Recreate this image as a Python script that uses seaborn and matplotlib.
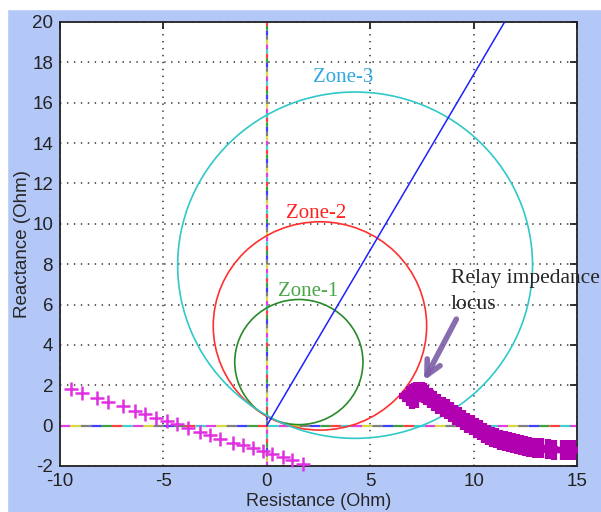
import matplotlib
matplotlib.use("Agg")
from matplotlib import pyplot as plt
from matplotlib.patches import Circle, Rectangle
import numpy as np
import pandas as pd
import seaborn as sns

# zone circles (mho characteristics)
zone_names = ["Zone-1", "Zone-2", "Zone-3"]
zone_cx = [1.55, 2.57, 4.27]
zone_cy = [3.15, 4.94, 7.95]
zone_r = [3.1, 5.16, 8.58]
zone_colors = ["#2a8a2a", "#ff3030", "#30c8c8"]
zone_text_colors = ["#48a848", "#ff2020", "#30a8e0"]
zone_text_x = [2.02, 2.40, 3.71]
zone_text_y = [6.67, 10.53, 17.27]

# line impedance direction
line_x = [0.0, 11.5]
line_y = [0.0, 20.0]

# load-side crosses (left)
load_x = [-9.48, -8.95, -8.22, -7.66, -6.97, -6.37, -5.88, -5.35, -4.83, -4.35, -3.82,
          -3.25, -2.73, -2.25, -1.62, -1.13, -0.65, -0.16, 0.27, 0.76, 1.24, 1.75]
load_y = [1.80, 1.62, 1.38, 1.18, 0.96, 0.74, 0.56, 0.38, 0.22, 0.06, -0.14,
          -0.32, -0.48, -0.64, -0.84, -0.98, -1.12, -1.28, -1.42, -1.54, -1.70, -1.88]

# relay impedance locus
locus_x = [6.9, 7.0, 7.1, 7.2, 7.3, 7.4, 7.5, 7.6, 7.0, 7.2, 7.7, 7.9, 8.1, 8.3, 8.5,
           8.7, 8.9, 9.1, 9.3, 9.5, 9.7, 9.9, 10.1, 10.3, 10.5, 10.7, 10.9, 11.1, 11.3,
           11.5, 11.7, 11.9, 12.1, 12.3, 12.5, 12.7, 12.95, 13.25, 13.6, 13.9, 14.3,
           14.55, 14.8]
locus_y = [1.45, 1.55, 1.60, 1.65, 1.68, 1.68, 1.65, 1.60, 1.30, 1.35, 1.50, 1.35, 1.20,
           1.07, 0.94, 0.81, 0.68, 0.55, 0.42, 0.28, 0.14, 0.02, -0.10, -0.24, -0.36,
           -0.48, -0.56, -0.63, -0.70, -0.77, -0.83, -0.87, -0.92, -0.97, -1.00, -1.04,
           -1.09, -1.13, -1.17, -1.19, -1.20, -1.20, -1.20]

axis_colors = ["#e040e0", "#d8d840", "#808080", "#4040ff", "#40a040", "#ff4040", "#40d0d0"]

sns.set_style("white")
plt.rcParams["font.family"] = ["Liberation Sans", "DejaVu Sans"]
plt.rcParams["lines.scale_dashes"] = False
plt.rcParams["axes.unicode_minus"] = False

fig = plt.figure(figsize=(6.01, 5.12), dpi=100)
fig.patch.set_facecolor("#b4c8f8")
fig.add_artist(Rectangle((0, 1 - 9 / 512), 1, 9 / 512, transform=fig.transFigure,
                         color="white", zorder=0))
fig.add_artist(Rectangle((0, 0), 7 / 601, 1, transform=fig.transFigure,
                         color="white", zorder=0))
ax = fig.add_axes([60 / 601, 1 - 466 / 512, 517 / 601, 444 / 512])
ax.set_facecolor("white")

# zero axes drawn as multi-coloured dashes
n = len(axis_colors)
for i, c in enumerate(axis_colors):
    ax.plot([-10, 15], [0, 0], color=c, lw=1.6, zorder=2,
            linestyle=(-i * 7.5, (7.5, 7.5 * (n - 1))))
    ax.plot([0, 0], [-2, 20], color=c, lw=1.6, zorder=2,
            linestyle=(-i * 3.3, (3.3, 3.3 * (n - 1))))

for cx, cy, r, c in zip(zone_cx, zone_cy, zone_r, zone_colors):
    ax.add_patch(Circle((cx, cy), r, fill=False, color=c, lw=1.2, zorder=3))

sns.lineplot(x=line_x, y=line_y, sort=False, color="#2020ff", lw=1.1, ax=ax, zorder=3)

sns.scatterplot(x=load_x, y=load_y, marker="+", s=95, linewidth=1.8,
                color="#e030e0", ax=ax, zorder=4, clip_on=False)
sns.scatterplot(x=locus_x, y=locus_y, marker="+", s=190, linewidth=4.5,
                color="#b000b0", ax=ax, zorder=4)

for name, tx, ty, tc in zip(zone_names, zone_text_x, zone_text_y, zone_text_colors):
    ax.text(tx, ty, name, color=tc, fontsize=15, family="Liberation Serif",
            ha="center", va="center", zorder=5)

ax.text(8.9, 7.31, "Relay impedance", fontsize=15.5, family="Liberation Serif",
        ha="left", va="center", clip_on=False, zorder=6)
ax.text(8.9, 5.98, "locus", fontsize=15.5, family="Liberation Serif",
        ha="left", va="center", clip_on=False, zorder=6)
ax.annotate("", xy=(7.54, 2.11), xytext=(9.23, 5.4),
            arrowprops=dict(arrowstyle="->", lw=4, color="#7b5ea7",
                            mutation_scale=26, alpha=0.9), zorder=6)

ax.set_xlim(-10, 15)
ax.set_ylim(-2, 20)
ax.set_xticks([-10, -5, 0, 5, 10, 15])
ax.set_yticks(np.arange(-2, 21, 2))
ax.grid(True, color="#303030", lw=1.1, linestyle=(0, (1, 4)))
ax.tick_params(direction="in", top=True, right=True, length=5, width=1.3,
               labelsize=13.5, pad=5, colors="#222222")
for s in ax.spines.values():
    s.set_color("#222222")
    s.set_linewidth(1.3)

ax.set_xlabel("Resistance (Ohm)", fontsize=13, labelpad=2)
ax.set_ylabel("Reactance (Ohm)", fontsize=13.5, labelpad=1)

fig.savefig("out.png", dpi=100, facecolor=fig.get_facecolor())
